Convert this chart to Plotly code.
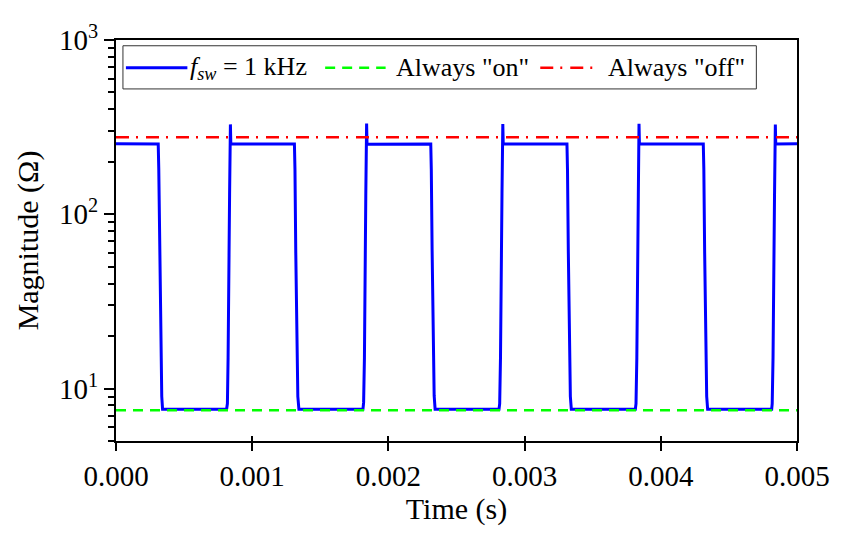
import math
import plotly.graph_objects as go

# Switching waveform, f_sw = 1 kHz (time in s, magnitude in ohm)
t_sw = [
    0.000000, 0.000310, 0.000314, 0.000322, 0.000328, 0.000336, 0.000342,
    0.000812, 0.000818, 0.000823, 0.000834, 0.000839, 0.000840, 0.000843,
    0.001310, 0.001314, 0.001320, 0.001327, 0.001335, 0.001343,
    0.001813, 0.001818, 0.001824, 0.001834, 0.001839, 0.001840, 0.001843,
    0.002311, 0.002315, 0.002321, 0.002328, 0.002336, 0.002343,
    0.002812, 0.002817, 0.002823, 0.002834, 0.002839, 0.002840, 0.002843,
    0.003311, 0.003315, 0.003321, 0.003328, 0.003336, 0.003343,
    0.003813, 0.003818, 0.003824, 0.003835, 0.003839, 0.003840, 0.003843,
    0.004312, 0.004316, 0.004322, 0.004329, 0.004337, 0.004344,
    0.004814, 0.004818, 0.004824, 0.004835, 0.004840, 0.004841, 0.004844,
    0.005000,
]
z_sw = [
    254, 253, 182, 60, 17, 9.0, 7.6,
    7.6, 8.2, 15, 130, 250, 328, 253,
    253, 180, 60, 17, 9.0, 7.6,
    7.6, 8.3, 15, 128, 250, 332, 252,
    253, 181, 62, 17, 9.1, 7.6,
    7.6, 8.2, 15, 131, 250, 330, 253,
    253, 180, 61, 17, 9.0, 7.6,
    7.6, 8.2, 15, 129, 250, 331, 253,
    253, 181, 60, 17, 9.0, 7.6,
    7.6, 8.2, 15, 130, 250, 327, 253,
    254,
]

# Constant references
t_const = [0.0, 0.005]
z_on = [7.5, 7.5]
z_off = [277, 277]

x_ticks = [0.000, 0.001, 0.002, 0.003, 0.004, 0.005]
y_ticks = [10, 100, 1000]
y_ticktext = ["10<sup>1</sup>", "10<sup>2</sup>", "10<sup>3</sup>"]

FONT = "Liberation Serif"
# the page body keeps its default 8px margin, so the figure is drawn 8px smaller
OFF = 8
W, H = 842 - OFF, 539 - OFF
L, R, T, B = 116 - OFF, 39, 23 - OFF, 98

fig = go.Figure()
fig.add_trace(go.Scatter(x=t_sw, y=z_sw, mode="lines", name="f_sw = 1 kHz",
                         line=dict(color="#0000ff", width=3), showlegend=False))
fig.add_trace(go.Scatter(x=t_const, y=z_on, mode="lines", name='Always "on"',
                         line=dict(color="#00ff00", width=2.5, dash="10px,7px"),
                         showlegend=False))
fig.add_trace(go.Scatter(x=t_const, y=z_off, mode="lines", name='Always "off"',
                         line=dict(color="#ff0000", width=2.5, dash="13px,7px,2px,8px"),
                         showlegend=False))
# dummy trace on the overlay axis so the crossing x ticks are drawn
fig.add_trace(go.Scatter(x=[None], y=[None], xaxis="x2", showlegend=False, hoverinfo="skip"))


# legend drawn by hand so the samples are as long as in the original
# (positions given in page pixels)
def px_x(p):
    return (p - OFF - L) / (W - L - R)


def px_y(p):
    return (H - B - (p - OFF)) / (H - T - B)


fig.add_shape(type="rect", xref="paper", yref="paper",
              x0=px_x(123), x1=px_x(762), y0=px_y(74), y1=px_y(29),
              line=dict(color="#333333", width=1), fillcolor="white", layer="above")
items = [
    (126, 188, 189, "#0000ff", "solid", "<i>f</i><sub><i>sw</i></sub> = 1 kHz"),
    (327, 388, 396, "#00ff00", "10px,7px", 'Always "on"'),
    (544, 600, 610, "#ff0000", "13px,7px,2px,8px", 'Always "off"'),
]
for x0, x1, xt, col, dash, label in items:
    fig.add_shape(type="line", xref="paper", yref="paper",
                  x0=px_x(x0), x1=px_x(x1), y0=px_y(52), y1=px_y(52),
                  line=dict(color=col, width=3 if dash == "solid" else 2.5, dash=dash),
                  layer="above")
    fig.add_annotation(x=px_x(xt), y=px_y(52), xref="paper", yref="paper",
                       text=label, showarrow=False, xanchor="left", yanchor="middle",
                       font=dict(family=FONT, size=26, color="black"))

axis_common = dict(showline=True, linecolor="black", linewidth=2, mirror=True,
                   showgrid=False, zeroline=False, tickcolor="black",
                   ticklabeloverflow="allow",
                   tickfont=dict(family=FONT, size=29, color="black"))

fig.update_layout(
    width=W, height=H,
    margin=dict(l=L, r=R, t=T, b=B),
    paper_bgcolor="white", plot_bgcolor="white",
    xaxis=dict(range=[0, 0.005], tickvals=x_ticks, tickformat=".3f",
               ticks="outside", ticklen=8, tickwidth=1.5,
               title=dict(text="Time (s)", font=dict(family=FONT, size=30, color="black"),
                          standoff=6),
               **axis_common),
    xaxis2=dict(range=[0, 0.005], tickvals=x_ticks, overlaying="x", side="bottom",
                ticks="inside", ticklen=5, tickwidth=1.5, tickcolor="black",
                showticklabels=False, showline=False, showgrid=False, zeroline=False),
    yaxis=dict(type="log", range=[math.log10(5), 3.0002],
               tickvals=y_ticks, ticktext=y_ticktext,
               ticks="outside", ticklen=10, tickwidth=1.5,
               minor=dict(dtick="D1", ticks="outside", ticklen=6, tickwidth=1.5,
                          tickcolor="black", showgrid=False),
               title=dict(text="Magnitude (Ω)", font=dict(family=FONT, size=30, color="black"),
                          standoff=12),
               **axis_common),
)

fig.write_html("out.html")
